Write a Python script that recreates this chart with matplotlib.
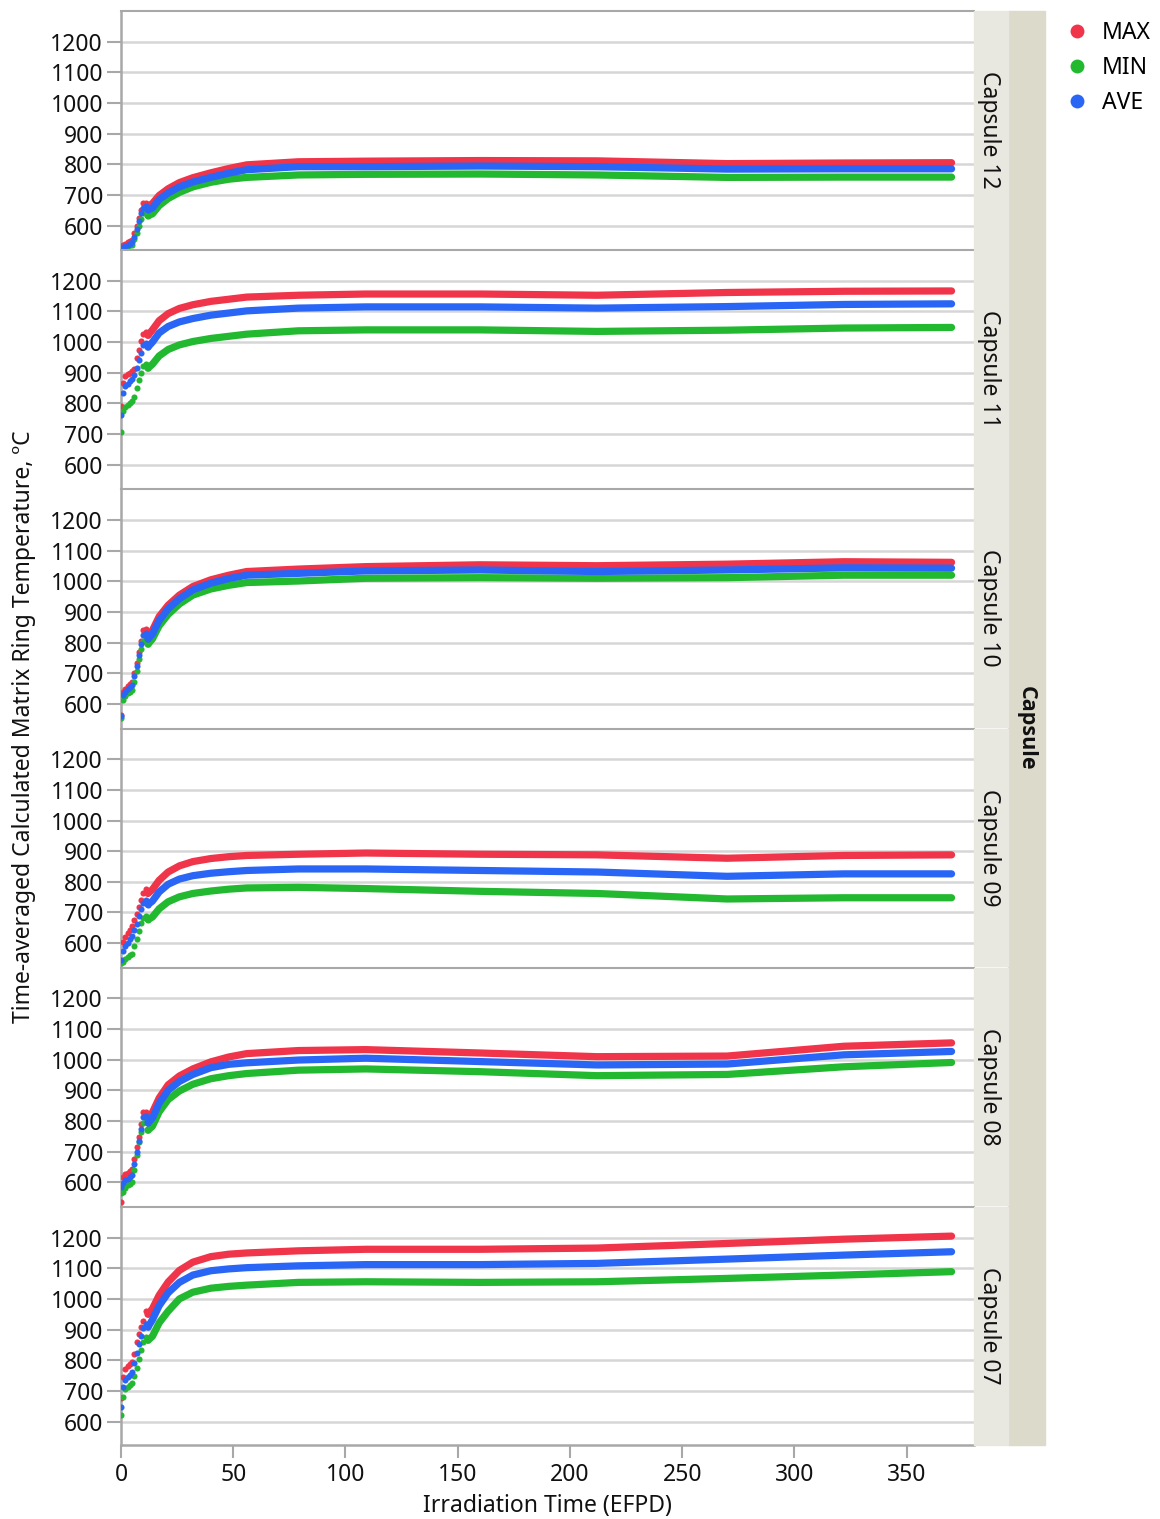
import matplotlib.pyplot as plt
from matplotlib.patches import Rectangle
from matplotlib.lines import Line2D

plt.rcParams['font.family'] = ['Noto Sans', 'DejaVu Sans']

days = [0, 1, 2, 3, 4, 5, 6, 7, 8, 9, 10, 11, 12, 14, 17, 21, 26, 32, 40, 48,
        56, 79, 109, 160, 212, 270, 322, 370]

capsules = ['Capsule 12', 'Capsule 11', 'Capsule 10', 'Capsule 09', 'Capsule 08', 'Capsule 07']

max_c12 = [530, 538, 541, 545, 548, 553, 575, 600, 625, 650, 675, 672, 662, 672, 698, 720, 740, 756, 772, 786,
           798, 808, 810, 812, 811, 802, 804, 805]
min_c12 = [525, 527, 530, 532, 535, 538, 555, 575, 598, 622, 640, 640, 632, 638, 665, 688, 708, 726, 741, 751,
           757, 765, 767, 768, 765, 757, 758, 758]
ave_c12 = [525, 530, 533, 536, 540, 545, 562, 590, 615, 640, 658, 665, 652, 657, 685, 706, 726, 742, 757, 771,
           782, 792, 792, 794, 792, 784, 785, 785]

max_c11 = [790, 866, 889, 895, 900, 905, 912, 948, 975, 1005, 1025, 1032, 1022, 1040, 1070, 1093, 1110, 1122, 1133, 1140,
           1147, 1153, 1157, 1157, 1153, 1162, 1166, 1167]
min_c11 = [707, 775, 789, 795, 800, 808, 822, 850, 878, 900, 922, 928, 915, 928, 955, 976, 991, 1002, 1012, 1019,
           1026, 1037, 1040, 1040, 1035, 1039, 1046, 1048]
ave_c11 = [762, 835, 857, 865, 873, 880, 892, 915, 942, 965, 990, 997, 984, 1000, 1030, 1051, 1066, 1077, 1088, 1095,
           1102, 1111, 1115, 1115, 1111, 1116, 1123, 1125]

max_c10 = [565, 638, 650, 660, 666, 671, 700, 735, 770, 805, 840, 845, 825, 840, 885, 922, 955, 983, 1005, 1020,
           1032, 1040, 1048, 1054, 1051, 1056, 1064, 1062]
min_c10 = [555, 612, 625, 634, 640, 645, 672, 708, 745, 780, 805, 812, 795, 812, 855, 892, 926, 955, 975, 987,
           996, 1001, 1010, 1012, 1010, 1012, 1020, 1020]
ave_c10 = [560, 628, 640, 650, 656, 661, 690, 725, 760, 795, 825, 832, 812, 828, 872, 910, 943, 972, 994, 1009,
           1020, 1026, 1034, 1037, 1032, 1037, 1044, 1043]

max_c09 = [540, 605, 620, 632, 642, 655, 675, 695, 718, 742, 765, 775, 762, 775, 805, 832, 852, 866, 876, 882,
           886, 890, 894, 890, 888, 877, 886, 888]
min_c09 = [535, 540, 548, 555, 560, 566, 590, 612, 640, 665, 682, 688, 677, 685, 712, 735, 751, 762, 770, 776,
           780, 782, 778, 769, 762, 744, 748, 748]
ave_c09 = [545, 575, 590, 602, 612, 622, 642, 662, 688, 712, 732, 742, 726, 737, 767, 792, 809, 820, 828, 833,
           837, 842, 842, 837, 832, 818, 826, 826]

max_c08 = [535, 618, 626, 632, 636, 642, 675, 715, 748, 790, 828, 830, 808, 828, 875, 918, 947, 970, 993, 1009,
           1020, 1030, 1033, 1022, 1010, 1012, 1044, 1055]
min_c08 = [565, 568, 580, 590, 596, 602, 640, 688, 730, 765, 795, 800, 770, 783, 830, 870, 898, 920, 938, 948,
           955, 966, 970, 961, 948, 952, 977, 991]
ave_c08 = [585, 598, 606, 612, 618, 624, 660, 700, 735, 775, 812, 815, 794, 810, 858, 900, 929, 952, 974, 985,
           990, 999, 1005, 994, 983, 986, 1016, 1027]

max_c07 = [677, 745, 770, 780, 788, 793, 820, 859, 885, 910, 928, 960, 950, 968, 1012, 1055, 1093, 1120, 1138, 1146,
           1150, 1157, 1162, 1162, 1166, 1181, 1195, 1205]
min_c07 = [621, 680, 705, 712, 718, 725, 750, 775, 805, 835, 860, 875, 865, 878, 922, 960, 1000, 1022, 1035, 1041,
           1045, 1054, 1056, 1054, 1056, 1067, 1078, 1089]
ave_c07 = [649, 712, 735, 745, 752, 760, 790, 825, 852, 880, 905, 918, 908, 932, 978, 1020, 1054, 1078, 1092, 1098,
           1102, 1108, 1112, 1112, 1116, 1130, 1143, 1154]

series = {
    'Capsule 12': (max_c12, min_c12, ave_c12),
    'Capsule 11': (max_c11, min_c11, ave_c11),
    'Capsule 10': (max_c10, min_c10, ave_c10),
    'Capsule 09': (max_c09, min_c09, ave_c09),
    'Capsule 08': (max_c08, min_c08, ave_c08),
    'Capsule 07': (max_c07, min_c07, ave_c07),
}
labels = ['MAX', 'MIN', 'AVE']
colors = ['#F0344A', '#22B930', '#2A66F6']
y_ticks = [600, 700, 800, 900, 1000, 1100, 1200]
x_ticks = [0, 50, 100, 150, 200, 250, 300, 350]

W, H = 1160, 1519
fig = plt.figure(figsize=(W / 100, H / 100), dpi=100)

left, right = 121, 974
top0, step, ph = 11, 239.2, 237.5
fs = 16.5
n_dots = 13  # discrete early points drawn as dots

# outer facet strip
fig.patches.append(Rectangle((1008 / W, 1 - 1445 / H), 37 / W, 1434 / H,
                             transform=fig.transFigure, color='#DCDACB', zorder=0))
fig.text(1026 / W, 1 - 728 / H, 'Capsule', rotation=-90, ha='center', va='center',
         fontsize=15.5, fontweight='bold', family=['Open Sans', 'DejaVu Sans'], color='#111111')

axes = []
for i, cap in enumerate(capsules):
    top = top0 + i * step
    ax = fig.add_axes([left / W, 1 - (top + ph) / H, (right - left) / W, ph / H])
    axes.append(ax)

    vals = series[cap]
    for k in [0, 1, 2]:
        v = vals[k]
        ax.plot(days[:n_dots], v[:n_dots], 'o', ms=4.4, mew=0, color=colors[k], zorder=3 + k)
        ax.plot(days[n_dots - 1:], v[n_dots - 1:], '-', lw=5.2, color=colors[k],
                solid_capstyle='round', solid_joinstyle='round', zorder=3 + k)

    ax.set_xlim(0, 380)
    ax.set_ylim(525, 1300)
    ax.set_yticks(y_ticks)
    ax.set_xticks(x_ticks)
    ax.grid(axis='y', color='#D6D6D6', lw=1.8)
    ax.set_axisbelow(True)
    for s in ['right', 'bottom']:
        ax.spines[s].set_visible(False)
    ax.spines['left'].set_color('#A8A8A8')
    ax.spines['left'].set_linewidth(1.8)
    ax.spines['top'].set_color('#A8A8A8')
    ax.spines['top'].set_linewidth(1.5)
    ax.tick_params(axis='y', direction='out', length=10, width=1.5, color='#A8A8A8',
                   labelsize=fs, labelcolor='#111111', pad=3)
    ax.tick_params(axis='x', bottom=False, labelbottom=False)

    # inner facet strip for this panel
    fig.patches.append(Rectangle((974 / W, 1 - (top + ph) / H), 34 / W, ph / H,
                                 transform=fig.transFigure, color='#E9E8E0', zorder=0))
    fig.text(989 / W, 1 - (top + ph / 2) / H, cap, rotation=-90, ha='center', va='center',
             fontsize=fs, color='#111111')

last = axes[-1]
last.spines['bottom'].set_visible(True)
last.spines['bottom'].set_color('#A8A8A8')
last.spines['bottom'].set_linewidth(1.8)
last.tick_params(axis='x', bottom=True, labelbottom=True, direction='out', length=9, width=1.5,
                 color='#A8A8A8', labelsize=fs, labelcolor='#111111', pad=4)
last.set_xlabel('Irradiation Time (EFPD)', fontsize=fs, color='#111111', labelpad=5)

fig.text(24 / W, 1 - 727 / H, 'Time-averaged Calculated Matrix Ring Temperature, \u00baC',
         rotation=90, ha='center', va='center', fontsize=fs, color='#111111')

handles = [Line2D([], [], marker='o', ls='none', ms=10, mew=0, color=c) for c in colors]
fig.legend(handles, labels, loc='upper left', bbox_to_anchor=(1056 / W, 1 - 12 / H),
           frameon=False, fontsize=fs, handletextpad=0.6, labelspacing=0.48,
           borderaxespad=0, handlelength=1.0)

fig.savefig('out.png', dpi=100)
